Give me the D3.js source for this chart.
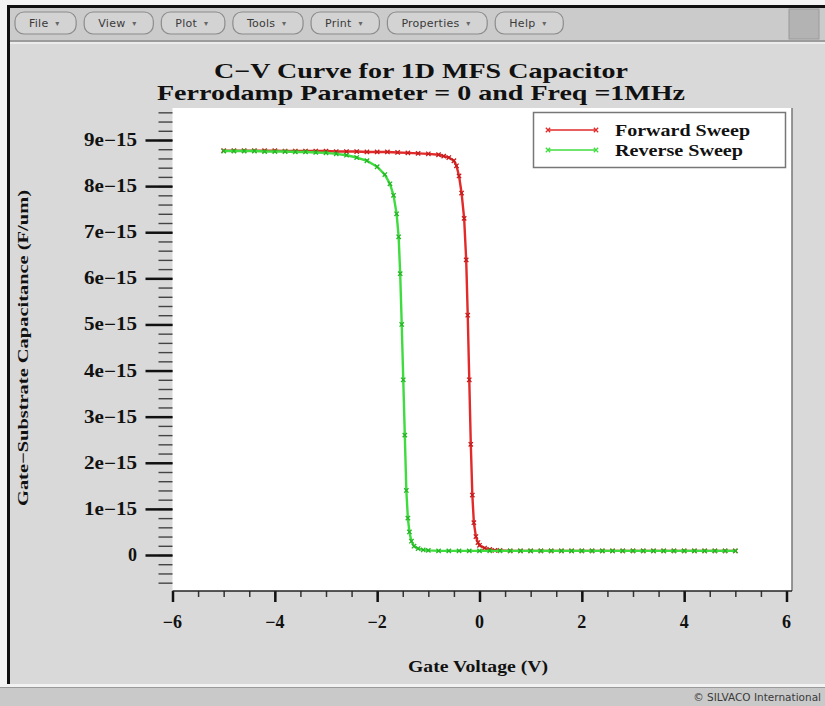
<!DOCTYPE html>
<html>
<head>
<meta charset="utf-8">
<script src="https://cdn.jsdelivr.net/npm/d3@7"></script>
<style>
  body { margin: 0; background: #ffffff; }
  svg { display: block; }
</style>
</head>
<body>
<svg id="chart" width="825" height="706"></svg>
<script>
// ---- chart content ----
const menuItems = ["File", "View", "Plot", "Tools", "Print", "Properties", "Help"];
const titleLines = ["C\u2212V Curve for 1D MFS Capacitor", "Ferrodamp Parameter = 0 and Freq =1MHz"];
const xTitle = "Gate Voltage (V)";
const yTitle = "Gate\u2212Substrate Capacitance (F/um)";
const seriesNames = ["Forward Sweep", "Reverse Sweep"];
const footerText = "\u00A9 SILVACO International";

const xTicks = [-6, -4, -2, 0, 2, 4, 6];
const yTickMantissa = [0, 1, 2, 3, 4, 5, 6, 7, 8, 9];   // in units of 1e-15 F/um
const UNIT = 1e-15;

// Forward sweep: gate voltage (V) and capacitance (x1e-15 F/um)
const forwardV = [-5.0, -4.8, -4.6, -4.4, -4.2, -4.0, -3.8, -3.6, -3.4, -3.2, -3.0, -2.8, -2.6, -2.4, -2.2,
  -2.0, -1.8, -1.6, -1.4, -1.2, -1.0, -0.8, -0.7, -0.6, -0.5, -0.45, -0.4, -0.35, -0.3, -0.26, -0.23,
  -0.2, -0.17, -0.14, -0.11, -0.07, -0.03, 0.0, 0.1, 0.2, 0.3, 0.4, 0.6, 0.8, 1.0, 1.2, 1.4, 1.6, 1.8,
  2.0, 2.2, 2.4, 2.6, 2.8, 3.0, 3.2, 3.4, 3.6, 3.8, 4.0, 4.2, 4.4, 4.6, 4.8, 5.0];
const forwardC = [8.77, 8.77, 8.77, 8.77, 8.77, 8.77, 8.76, 8.76, 8.76, 8.76, 8.76, 8.75, 8.75, 8.75, 8.74,
  8.74, 8.74, 8.73, 8.72, 8.71, 8.70, 8.68, 8.65, 8.62, 8.55, 8.44, 8.22, 7.85, 7.30, 6.40, 5.20,
  3.80, 2.40, 1.30, 0.70, 0.40, 0.27, 0.21, 0.15, 0.12, 0.10, 0.10, 0.09, 0.09, 0.09, 0.09, 0.09, 0.09, 0.09,
  0.09, 0.09, 0.09, 0.09, 0.09, 0.09, 0.09, 0.09, 0.09, 0.09, 0.09, 0.09, 0.09, 0.09, 0.09, 0.09];

// Reverse sweep: gate voltage (V) and capacitance (x1e-15 F/um)
const reverseV = [5.0, 4.8, 4.6, 4.4, 4.2, 4.0, 3.8, 3.6, 3.4, 3.2, 3.0, 2.8, 2.6, 2.4, 2.2, 2.0, 1.8, 1.6,
  1.4, 1.2, 1.0, 0.8, 0.6, 0.4, 0.2, 0.0, -0.2, -0.4, -0.6, -0.8, -1.0, -1.1, -1.2, -1.28, -1.33, -1.37,
  -1.4, -1.43, -1.46, -1.49, -1.52, -1.55, -1.58, -1.62, -1.68, -1.75, -1.85, -2.0, -2.2, -2.4, -2.6,
  -2.8, -3.0, -3.2, -3.4, -3.6, -3.8, -4.0, -4.2, -4.4, -4.6, -4.8, -5.0];
const reverseC = [0.09, 0.09, 0.09, 0.09, 0.09, 0.09, 0.09, 0.09, 0.09, 0.09, 0.09, 0.09, 0.09, 0.09, 0.09, 0.09, 0.09, 0.09,
  0.09, 0.09, 0.09, 0.09, 0.09, 0.09, 0.09, 0.09, 0.09, 0.09, 0.09, 0.09, 0.10, 0.11, 0.14, 0.19, 0.30, 0.50,
  0.80, 1.40, 2.60, 3.80, 5.00, 6.10, 6.90, 7.40, 7.80, 8.05, 8.25, 8.42, 8.55, 8.62, 8.67,
  8.70, 8.72, 8.73, 8.74, 8.74, 8.75, 8.75, 8.75, 8.76, 8.76, 8.76, 8.76];

const seriesColors = ["#e22a2a", "#3fdc3f"];
const markerColors = ["#c41c1c", "#25b525"];

// ---- drawing ----
const svg = d3.select("#chart");
const serif = "'Liberation Serif', 'DejaVu Serif', serif";
const sans = "'DejaVu Sans', 'Liberation Sans', sans-serif";

// Widen the glyphs of a text so that it spans a given width
function stretchTo(sel, width) {
  sel.attr("textLength", width).attr("lengthAdjust", "spacingAndGlyphs");
  return sel;
}

// Window frame
svg.append("rect").attr("x", 0).attr("y", 0).attr("width", 825).attr("height", 706).attr("fill", "#f4f4f4");
svg.append("rect").attr("x", 7).attr("y", 5).attr("width", 818).attr("height", 682).attr("fill", "#111");
svg.append("rect").attr("x", 10).attr("y", 8).attr("width", 815).attr("height", 34).attr("fill", "#cbcbcb");
svg.append("rect").attr("x", 10).attr("y", 40).attr("width", 815).attr("height", 2).attr("fill", "#9c9c9c");
svg.append("rect").attr("x", 10).attr("y", 42).attr("width", 815).attr("height", 2).attr("fill", "#ececec");
svg.append("rect").attr("x", 10).attr("y", 44).attr("width", 815).attr("height", 640).attr("fill", "#d9d9d9");
svg.append("rect").attr("x", 0).attr("y", 684).attr("width", 825).attr("height", 3).attr("fill", "#f2f2f2");
svg.append("rect").attr("x", 0).attr("y", 687).attr("width", 825).attr("height", 19).attr("fill", "#c9c9c9");
svg.append("rect").attr("x", 0).attr("y", 687).attr("width", 825).attr("height", 1).attr("fill", "#9a9a9a");

// Toolbar block at the right end
svg.append("rect").attr("x", 789).attr("y", 9).attr("width", 30).attr("height", 30)
  .attr("fill", "#b3b3b3").attr("stroke", "#9a9a9a");

// Menu buttons
const menu = svg.append("g").attr("class", "menu");
let bx = 15;
menuItems.forEach(name => {
  const g = menu.append("g");
  const btn = g.append("rect").attr("y", 12).attr("height", 22).attr("rx", 9)
    .attr("fill", "#d3d3d3").attr("stroke", "#8c8c8c").attr("stroke-width", 1.2);
  const t = g.append("text").attr("x", bx + 14).attr("y", 27)
    .attr("font-family", sans).attr("font-size", 11).attr("fill", "#3a3a3a").text(name);
  const tw = t.node().getComputedTextLength() * 1.04;
  t.attr("textLength", tw).attr("lengthAdjust", "spacing");
  g.append("text").attr("x", bx + 14 + tw + 7).attr("y", 26)
    .attr("font-family", sans).attr("font-size", 8).attr("fill", "#666").text("\u25BE");
  const bw = tw + 42;
  btn.attr("x", bx).attr("width", bw);
  bx += bw + 8;
});

// Footer
svg.append("text").attr("x", 821).attr("y", 701).attr("text-anchor", "end")
  .attr("font-family", sans).attr("font-size", 10.5).attr("fill", "#3a3a3a").text(footerText);

// Plot geometry
const plot = { left: 172.5, right: 792, top: 108, bottom: 591 };
const x = d3.scaleLinear().domain([-6, 6]).range([172.5, 786.5]);
const y = d3.scaleLinear().domain([0, 9 * UNIT]).range([555, 140]);

svg.append("rect").attr("x", plot.left).attr("y", plot.top)
  .attr("width", plot.right - plot.left).attr("height", plot.bottom - plot.top)
  .attr("fill", "#ffffff");
svg.append("line").attr("x1", plot.right).attr("x2", plot.right)
  .attr("y1", plot.top).attr("y2", plot.bottom).attr("stroke", "#777").attr("stroke-width", 1.5);

// Title
titleLines.forEach((line, i) => {
  const t = svg.append("text").attr("x", 421).attr("y", i === 0 ? 78 : 100)
    .attr("text-anchor", "middle").attr("font-family", serif).attr("font-weight", "bold")
    .attr("font-size", 21).attr("fill", "#111").text(line);
  stretchTo(t, i === 0 ? 414 : 528);
});

// X axis
const xMinor = d3.range(-6, 6.001, 0.5);
const xAxisG = svg.append("g").attr("transform", `translate(0,${plot.bottom})`);
xAxisG.call(d3.axisBottom(x).tickValues(xMinor).tickSize(6).tickFormat(""))
  .call(g => g.select(".domain").remove());
xAxisG.selectAll("line").attr("stroke", "#333").attr("stroke-width", 1.5);
const xMajorG = xAxisG.append("g").call(d3.axisBottom(x).tickValues(xTicks).tickSize(11).tickFormat(""))
  .call(g => g.select(".domain").remove());
xMajorG.selectAll("line").attr("stroke", "#111").attr("stroke-width", 2.5);
xAxisG.append("line").attr("x1", plot.left).attr("x2", plot.right)
  .attr("y1", 0).attr("y2", 0).attr("stroke", "#222").attr("stroke-width", 1.5);
xTicks.forEach(v => {
  svg.append("text").attr("x", x(v)).attr("y", 628).attr("text-anchor", "middle")
    .attr("font-family", serif).attr("font-weight", "bold").attr("font-size", 18)
    .attr("fill", "#111").text(v < 0 ? "\u2212" + Math.abs(v) : String(v));
});

// Y axis
const yMinor = d3.range(-0.6, 9.61, 0.2).map(v => v * UNIT);
const yAxisG = svg.append("g").attr("transform", `translate(${plot.left},0)`);
yAxisG.call(d3.axisLeft(y).tickValues(yMinor).tickSize(14).tickFormat(""))
  .call(g => g.select(".domain").remove());
yAxisG.selectAll("line").attr("stroke", "#444").attr("stroke-width", 1.4);
const yMajorG = yAxisG.append("g").call(d3.axisLeft(y).tickValues(yTickMantissa.map(m => m * UNIT)).tickSize(27).tickFormat(""))
  .call(g => g.select(".domain").remove());
yMajorG.selectAll("line").attr("stroke", "#111").attr("stroke-width", 2.5);
yTickMantissa.forEach(m => {
  const t = svg.append("text").attr("x", 137).attr("y", y(m * UNIT) + 6).attr("text-anchor", "end")
    .attr("font-family", serif).attr("font-weight", "bold").attr("font-size", 18)
    .attr("fill", "#111").text(m === 0 ? "0" : `${m}e\u221215`);
  if (m !== 0) stretchTo(t, 53);
});

// Axis titles
stretchTo(svg.append("text").attr("x", 478).attr("y", 672).attr("text-anchor", "middle")
  .attr("font-family", serif).attr("font-weight", "bold").attr("font-size", 17)
  .attr("fill", "#111").text(xTitle), 140);
stretchTo(svg.append("text").attr("transform", "translate(28,348) rotate(-90)")
  .attr("text-anchor", "middle").attr("font-family", serif).attr("font-weight", "bold")
  .attr("font-size", 15).attr("fill", "#111").text(yTitle), 316);

// Data series
const series = [
  { v: forwardV, c: forwardC },
  { v: reverseV, c: reverseC }
].map(s => s.v.map((v, i) => ({ v, c: s.c[i] * UNIT })));

const line = d3.line().x(d => x(d.v)).y(d => y(d.c));
const cross = d3.symbol().type(d3.symbolX).size(14);

series.forEach((pts, i) => {
  const g = svg.append("g");
  g.append("path").datum(pts).attr("d", line).attr("fill", "none")
    .attr("stroke", seriesColors[i]).attr("stroke-width", 2.4).attr("stroke-linejoin", "round");
  g.selectAll("path.mk").data(pts).join("path").attr("class", "mk")
    .attr("transform", d => `translate(${x(d.v)},${y(d.c)})`)
    .attr("d", cross).attr("fill", "none").attr("stroke", markerColors[i]).attr("stroke-width", 1.3);
});

// Legend
const legend = svg.append("g");
legend.append("rect").attr("x", 533.5).attr("y", 112.5).attr("width", 252).attr("height", 55)
  .attr("fill", "#ffffff").attr("stroke", "#777").attr("stroke-width", 1.5);
seriesNames.forEach((name, i) => {
  const ly = 130 + i * 20;
  legend.append("line").attr("x1", 548).attr("x2", 596).attr("y1", ly).attr("y2", ly)
    .attr("stroke", seriesColors[i]).attr("stroke-width", 1.3);
  [548, 596].forEach(px => {
    legend.append("path").attr("transform", `translate(${px},${ly})`).attr("d", cross)
      .attr("fill", "none").attr("stroke", seriesColors[i]).attr("stroke-width", 1.3);
  });
  stretchTo(legend.append("text").attr("x", 615).attr("y", ly + 6)
    .attr("font-family", serif).attr("font-weight", "bold").attr("font-size", 16)
    .attr("fill", "#111").text(name), i === 0 ? 135 : 128);
});
</script>
</body>
</html>
